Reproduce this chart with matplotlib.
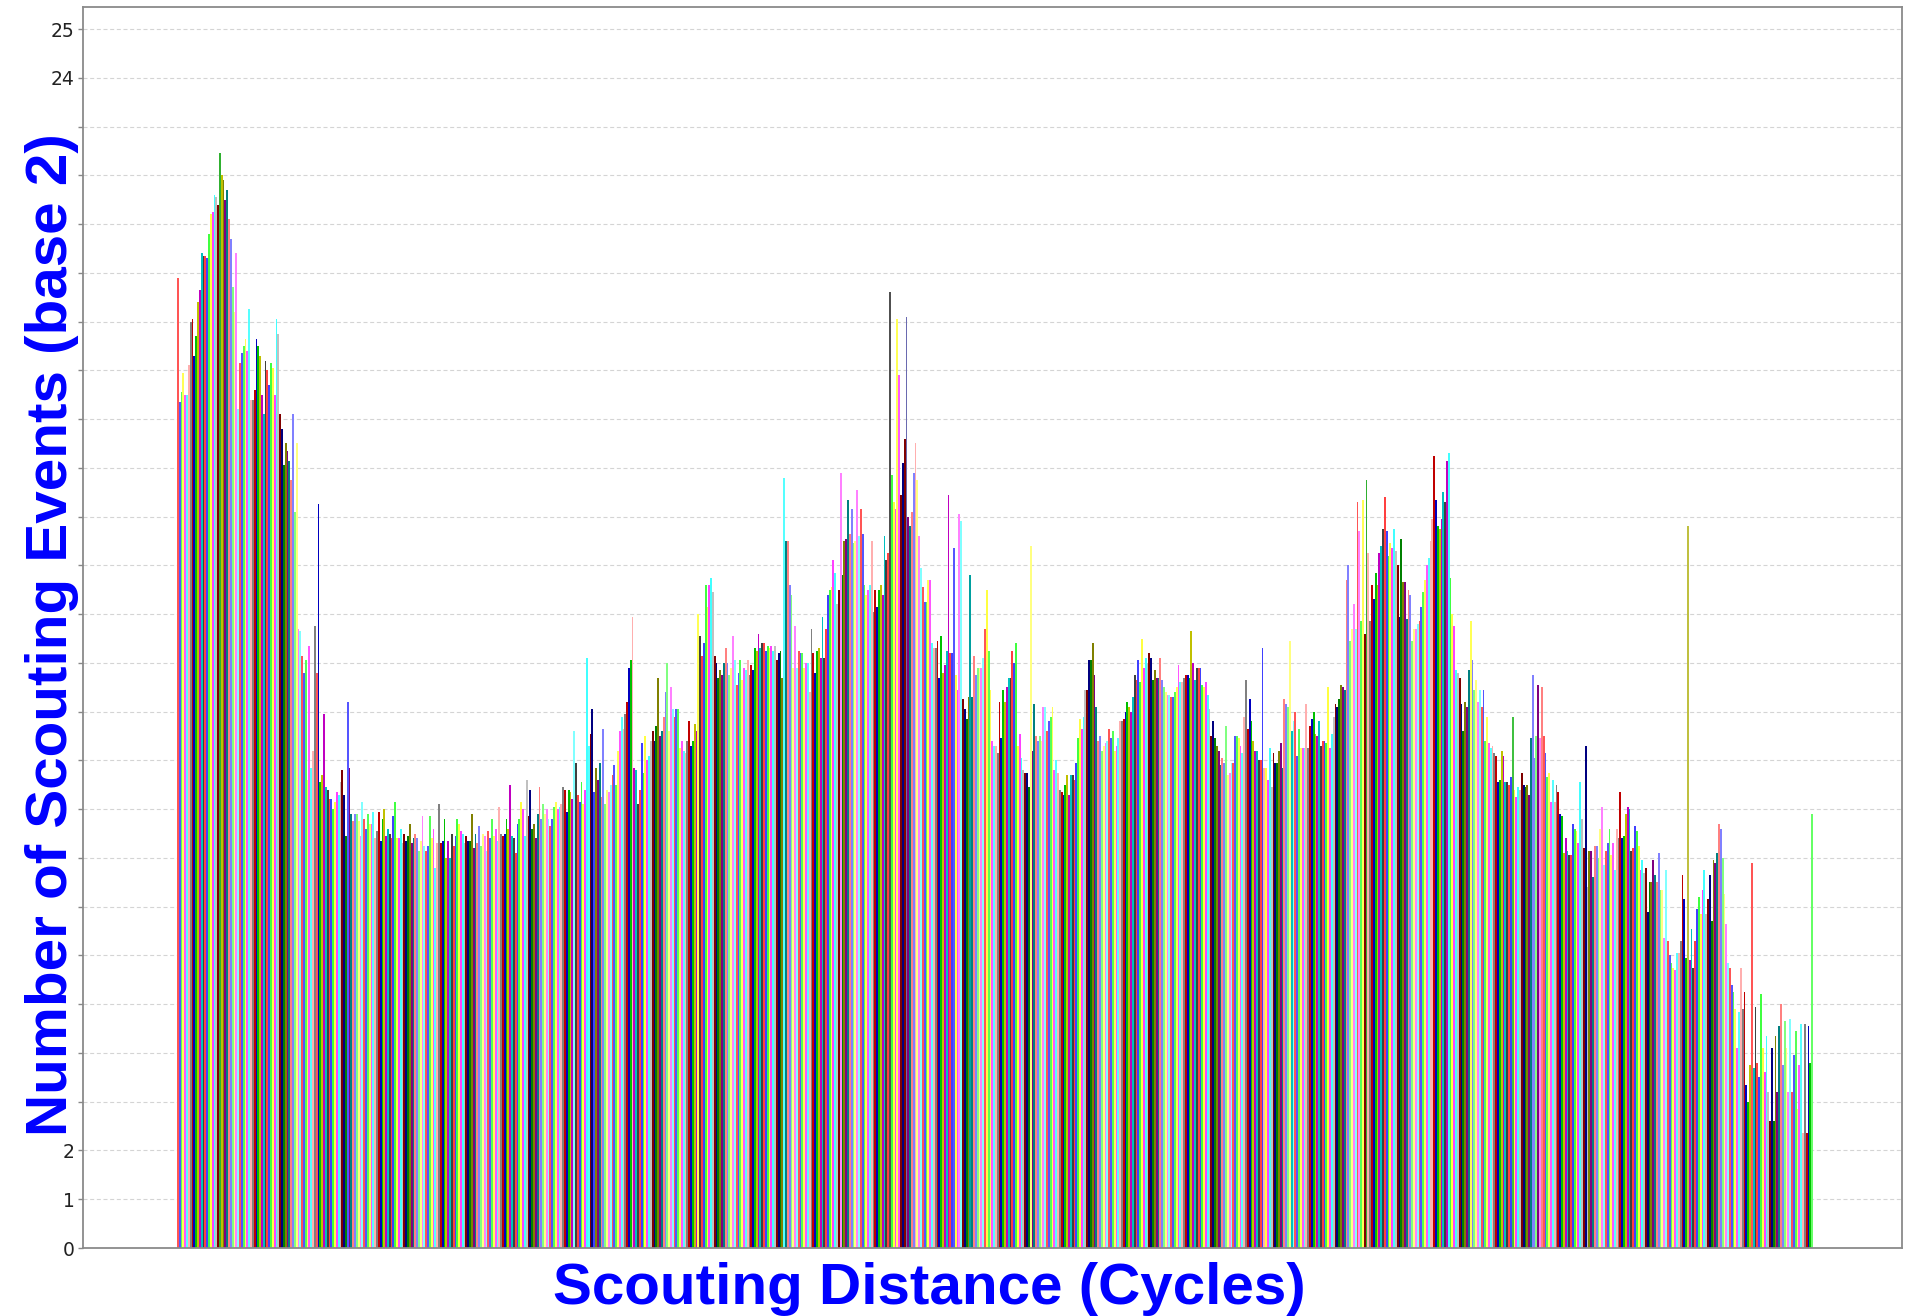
import matplotlib
matplotlib.use("Agg")
import matplotlib.pyplot as plt
import numpy as np

# Event counts (log2) per scouting distance, left to right
S1 = [19.9, 17.35, 17.55, 17.95, 17.5, 17.5, 18.1, 19.0, 19.05, 18.3, 18.7,
      19.4, 19.65, 20.4, 20.35, 20.35, 20.3, 20.8, 21.2, 21.25, 21.6,
      21.55, 21.4, 22.45, 22.0, 21.9, 21.5, 21.7, 21.1, 20.7, 19.7,
      19.2, 20.4, 17.2, 18.15, 18.35, 18.5, 18.65, 18.4, 19.25, 17.4,
      17.4, 17.6, 18.65, 18.5, 18.3, 17.5, 17.1, 18.2, 18.0, 17.7,
      18.15, 18.05, 17.5, 19.05, 18.75, 17.1, 16.8, 16.05, 16.5, 16.35,
      16.15, 15.75, 17.1, 15.1, 16.5, 12.7, 12.65, 12.15, 11.8, 12.05,
      9.6, 12.35, 9.85, 10.2, 12.75, 11.8, 15.25, 9.55, 9.7, 10.95,
      9.45, 9.4, 9.2]

S2 = [9.2, 9.0, 9.15, 9.35, 9.3, 9.55, 9.8, 9.3, 8.45, 11.2,
      9.85, 8.9, 8.75, 8.9, 8.9, 8.75, 8.45, 9.15, 8.8, 8.6, 8.9,
      8.7, 8.7, 8.95, 8.4, 8.55, 8.95, 8.35, 8.8, 9.0, 8.45, 8.6, 8.5,
      8.4, 8.85, 9.15, 8.4, 8.4, 8.6, 8.3, 8.5, 8.35, 8.45, 8.7, 8.3,
      8.4, 8.5, 8.4, 8.15, 8.35, 8.85, 8.25, 8.15, 8.25, 8.85, 8.4, 8.6,
      7.8, 8.3, 9.1, 8.3, 8.35, 8.8, 8.0, 8.35, 8.0, 8.5, 8.25, 8.45,
      8.8, 8.7, 8.55, 8.5, 8.3, 8.45, 8.35, 8.35, 8.9, 8.2, 8.5, 8.3,
      8.65, 8.25, 8.5, 8.45, 8.15, 8.55, 8.4, 8.8, 8.45, 8.6, 8.35,
      9.05, 8.5, 8.45, 8.5, 8.8, 8.6, 9.5, 8.45, 8.4, 8.1, 8.7,
      8.8, 9.15, 9.0, 8.45, 9.6, 8.85, 9.4, 8.6, 8.7, 8.4, 8.9,
      9.45, 8.8, 9.1, 8.9, 9.0, 8.8, 8.65, 8.8, 9.05, 9.15, 9.0,
      9.05, 9.1, 9.45, 9.4, 8.95, 9.4, 9.35, 9.2, 10.6, 9.95, 9.3,
      9.15, 9.55, 9.1, 9.4, 12.1, 10.3, 10.55, 11.05, 9.35, 9.85, 9.6,
      9.95, 9.25, 10.65, 9.1, 9.4]

S3 = [9.35, 9.5, 9.7, 9.9, 9.5, 10.2, 10.6, 10.9, 10.65, 10.95, 11.2, 11.9, 12.05,
      12.95, 9.85, 9.8, 9.1, 9.4, 10.35, 9.75, 10.5, 10.0, 10.1,
      10.4, 10.6, 10.4, 10.7, 11.7, 10.5, 10.6, 10.9, 11.4, 12.0, 10.6,
      11.5, 11.05, 10.9, 11.05, 11.05, 10.25, 10.4, 10.2, 10.15, 10.4,
      10.8, 10.3, 10.4, 10.75, 10.6, 13.0, 12.55, 12.15, 12.4, 13.6,
      13.15, 13.6, 13.75, 13.45, 12.15, 12.0, 11.7, 11.85, 11.75, 12.0,
      12.3, 12.0, 11.75, 11.9, 12.55, 12.05, 11.55, 11.8, 12.05, 11.65, 11.9,
      11.85, 12.05, 11.75, 11.95, 11.85, 12.3, 12.25, 12.6, 12.3, 12.4,
      12.4, 12.25, 12.35, 12.3, 12.35, 12.25, 12.35, 12.05, 12.2, 12.25, 11.7,
      15.8, 14.5, 14.5, 13.6, 13.4, 11.9, 12.75, 11.9, 12.25, 12.2,
      12.2, 11.9, 12.0, 12.0, 11.4, 12.7, 12.2, 11.8, 12.25, 12.3,
      12.1, 12.95, 12.1, 12.7, 13.4, 13.5, 13.55, 14.1, 13.85, 13.2,
      13.5, 15.9,
      13.8, 14.5, 14.55, 15.35, 14.65, 15.15, 14.45, 14.5, 15.55, 14.6,
      15.15, 14.65, 13.6, 13.4, 13.5, 13.6, 14.5, 13.05, 13.5, 13.15]

S4 = [13.5, 13.6, 13.4, 14.6, 14.1, 14.25, 19.6, 15.85, 15.3, 15.15,
      19.05, 17.9, 15.45, 16.1, 16.6, 19.1, 15.0, 14.8, 15.1, 15.9,
      16.5, 15.75, 14.6, 13.95, 13.55, 13.25, 13.25, 13.7, 13.7, 12.4,
      12.3, 12.3, 12.45, 11.7, 12.55, 11.8, 11.95, 12.25, 15.45, 12.2,
      12.2, 14.35, 11.75, 11.45, 15.05, 14.9, 11.25, 11.05, 10.85, 11.3,
      13.8, 11.3, 12.15, 11.75, 11.9, 11.9, 11.9, 12.1, 12.7, 13.5,
      12.25, 11.45, 10.4, 10.3, 10.3, 10.15, 11.2, 10.45, 11.45, 11.2,
      11.5, 11.7, 11.7, 12.25, 12.0, 12.4, 10.3, 10.55, 10.05, 9.8,
      9.75, 9.75, 9.45, 14.4, 10.2, 11.15, 10.5, 10.4, 10.5, 10.4,
      11.1, 11.1, 10.6, 10.8, 10.9, 11.1, 9.8, 10.0, 9.75, 9.4,
      9.35, 9.3, 9.5, 9.7, 9.3, 9.7, 9.7, 9.6, 9.95, 10.45, 10.85,
      10.65, 10.9, 11.45, 11.45, 12.05, 12.05, 12.4, 11.75, 11.1, 10.4,
      10.5, 10.2, 10.3, 10.35, 10.4, 10.65, 10.45, 10.6, 10.2, 10.3, 10.45,
      10.8, 10.8, 10.85, 11.0, 11.2, 11.1, 11.0, 11.3, 11.75, 11.65, 12.05,
      11.6, 12.5, 11.9, 12.1, 12.0, 12.2]

S5 = [12.1, 11.65, 11.85, 11.7, 11.7, 12.1, 11.65, 11.5, 11.4, 11.35,
      11.35, 11.3, 11.3, 11.4, 11.5, 11.95, 11.6, 11.6, 11.7,
      11.75, 11.75, 11.7, 12.65, 12.0, 11.65, 11.9, 11.9, 11.9, 11.55,
      11.5, 11.6, 11.35, 11.05, 10.5, 10.8, 10.45, 10.3, 10.2, 9.9,
      10.05, 9.95, 10.7, 9.7, 9.75, 9.95, 9.95, 10.5, 10.5, 10.45,
      10.3, 10.15, 10.9, 11.65, 10.65, 11.25, 10.8, 10.4, 10.2, 10.2,
      10.0, 10.0, 12.3, 9.85, 9.85, 9.6, 10.25, 9.45, 10.15, 9.95,
      9.95, 10.2, 10.35, 9.85, 11.25, 11.15, 11.1, 12.45, 10.6, 10.8,
      11.0, 10.1, 10.65, 10.25, 10.25, 10.25, 11.15, 10.25, 10.7, 10.85,
      11.0, 10.55, 10.5, 10.8, 10.3, 10.4, 10.4, 10.35, 11.5, 10.25,
      10.55, 10.9, 11.15, 11.1, 11.25, 11.55, 11.5, 11.45, 13.7, 14.0,
      12.45, 12.7, 13.2, 12.7, 15.3, 14.7, 12.85, 15.35, 12.6, 15.75,
      14.25, 12.85, 13.6, 13.3, 13.85, 13.6, 14.25, 14.4, 14.75,
      15.4, 14.7, 14.2, 14.45, 14.35, 14.75, 14.3, 14.0, 12.95,
      14.55, 13.65, 13.65, 12.9, 13.5, 13.4, 12.45, 12.7, 12.7, 12.8,
      12.85, 13.15, 13.45, 13.7, 14.0, 14.15, 14.5, 14.95, 16.25, 15.35,
      14.8, 14.75, 14.95, 15.5, 15.3, 16.15, 16.3, 13.75, 13.0,
      12.75, 11.85, 11.8, 11.7, 11.15, 10.6, 11.2, 11.1, 11.85, 12.85]

S6 = [12.05, 11.45, 11.65, 11.2, 11.45, 11.1, 11.45, 10.4, 10.9, 10.35,
      10.25, 10.3, 10.15, 10.1, 9.55, 9.6, 10.2, 10.1, 9.55, 9.55,
      9.5, 9.65, 10.9, 9.4, 9.25, 9.45, 9.4, 9.75, 9.5, 9.45,
      9.5, 9.3, 10.45, 11.75, 10.05, 10.5, 11.55, 10.45, 11.5, 10.5,
      10.15, 9.65, 9.75, 9.15, 9.6, 9.15, 9.5, 9.35, 8.9, 8.85,
      8.1, 8.4, 8.15, 8.05, 8.05, 8.7, 8.6, 8.55, 8.3,
      9.55, 8.8, 8.2, 10.3, 7.4, 8.15, 8.15, 7.6, 8.25, 8.25,
      8.0, 8.6, 9.05, 7.85, 8.15, 8.3, 8.6, 8.05, 8.3, 7.75,
      8.6, 8.4, 9.35, 8.4, 8.45, 8.9, 9.05, 9.0, 8.15, 8.2,
      8.65, 8.55, 8.25, 7.75, 7.95, 7.7, 7.8, 6.9, 7.5, 7.5,
      7.95, 7.65, 7.5, 8.1, 7.35, 7.35, 6.35, 7.75, 6.3, 6.0,
      5.85, 5.75, 5.7, 6.05, 6.05, 6.3, 7.65, 7.15, 5.95, 14.8,
      5.9, 6.55, 5.75, 6.3, 6.95, 7.2, 6.85, 7.35, 7.75,
      6.85, 7.15, 7.65, 6.7, 7.95, 7.9, 8.1, 8.7, 8.6,
      8.0, 7.25, 6.65, 5.85, 5.75, 5.4, 5.25, 4.9, 4.1,
      4.85, 5.75, 4.9, 5.25, 3.35, 3.0, 3.75, 7.9, 3.7,
      4.95, 3.8, 3.5, 5.2, 4.1, 3.6, 4.35, 3.2, 2.6,
      4.1, 2.6, 4.35, 3.2, 4.55, 5.0, 3.75, 4.65, 4.1, 3.2,
      4.7, 3.2, 3.95, 4.45, 2.85, 3.75, 4.6, 2.35, 4.6, 2.35,
      4.55, 3.8, 8.9]

SEGMENTS = [S1, S2, S3, S4, S5, S6]

Y_TICKS = list(range(0, 26))
Y_TICK_LABELS = {0: "0", 1: "1", 2: "2", 24: "24", 25: "25"}
X_LABEL = "Scouting Distance (Cycles)"
Y_LABEL = "Number of Scouting Events (base 2)"

# JFreeChart-style series paint sequence
PALETTE = ["#FF5555", "#5555FF", "#55FF55", "#FFFF55", "#FF55FF", "#55FFFF",
           "#FFAFAF", "#808080", "#C00000", "#0000C0", "#00C000", "#C0C000",
           "#C000C0", "#00C0C0", "#404040", "#FF4040", "#4040FF", "#40FF40",
           "#FFFF40", "#FF40FF", "#40FFFF", "#C0C0C0", "#800000", "#000080",
           "#008000", "#808000", "#800080", "#008080", "#FF8080", "#8080FF",
           "#80FF80", "#FFFF80", "#FF80FF", "#80FFFF"]

# paints of the standout bars: (segment number, position in segment) -> colour
STANDOUT_COLORS = {
    (0, 23): "#30B030", (0, 24): "#C0C000", (0, 76): "#FF5555",
    (1, 9): "#5555FF", (1, 133): "#80FFFF", (1, 141): "#55FFFF", (1, 144): "#4040FF",
    (2, 13): "#FFAFAF", (2, 49): "#FFFF55", (2, 96): "#55FFFF", (2, 127): "#FF80FF",
    (3, 6): "#505050", (3, 10): "#FFFF55", (3, 11): "#FF55FF", (3, 14): "#800000",
    (3, 15): "#6A6AB0", (3, 20): "#FFAFAF", (3, 38): "#C000C0", (3, 41): "#5555FF",
    (3, 44): "#FF80FF", (3, 45): "#80FFFF", (3, 50): "#00A0A0", (3, 59): "#FFFF40",
    (3, 83): "#FFFF80",
    (4, 62): "#FFAFAF", (4, 77): "#00C0C0", (4, 114): "#FF80FF", (4, 117): "#800000",
    (4, 118): "#30B030", (4, 154): "#FFAFAF", (4, 162): "#C000C0", (4, 163): "#40FFFF",
    (4, 175): "#FFFF55",
    (5, 22): "#40C040", (5, 33): "#8080FF", (5, 36): "#800080", (5, 38): "#FF8080",
    (5, 63): "#C0C0C0", (5, 118): "#C0C040", (5, 153): "#FF5555", (5, 186): "#66FF66",
}

heights = [v for seg in SEGMENTS for v in seg]
n = len(heights)
colors = [PALETTE[i % len(PALETTE)] for i in range(n)]
start = 0
for s, seg in enumerate(SEGMENTS):
    for (si, pos), c in STANDOUT_COLORS.items():
        if si == s:
            colors[start + pos] = c
    start += len(seg)

W, H = 1905, 1316
fig = plt.figure(figsize=(W / 100, H / 100), dpi=100)
fig.patch.set_facecolor("white")

# plot frame in pixels
px_left, px_right, px_top, px_bottom = 83, 1902, 7, 1248
bar_left, bar_right = 177, 1813
ax = fig.add_axes([px_left / W, 1 - px_bottom / H,
                   (px_right - px_left) / W, (px_bottom - px_top) / H])

x = np.arange(n)
ax.bar(x, heights, width=1.0, color=colors, linewidth=0, zorder=2)

ppu = (bar_right - bar_left) / n
ax.set_xlim(-0.5 - (bar_left - px_left) / ppu, n - 0.5 + (px_right - bar_right) / ppu)
unit_px = (px_bottom - 29) / 25.0
ax.set_ylim(0, (px_bottom - px_top) / unit_px)

ax.set_yticks(Y_TICKS)
ax.set_yticklabels([Y_TICK_LABELS.get(t, "") for t in Y_TICKS])
ax.set_xticks([])
ax.tick_params(axis="y", length=3.6, width=1, color="#888888", labelcolor="#222222",
               labelsize=13.5, pad=2.5)
ax.yaxis.grid(True, color="#d4d4d4", linestyle=(0, (3.6, 2.4)), linewidth=0.8)
ax.set_axisbelow(True)
for sp in ax.spines.values():
    sp.set_color("#8a8a8a")
    sp.set_linewidth(1.3)

label_font = dict(family="Liberation Sans", fontsize=42, fontweight="bold", color="#0000FF")
fig.text(929 / W, 1 - 1289 / H, X_LABEL, ha="center", va="center", **label_font)
fig.text(52 / W, 1 - 635 / H, Y_LABEL, ha="center", va="center", rotation=90, **label_font)

fig.savefig("out.png", dpi=100, facecolor="white")
